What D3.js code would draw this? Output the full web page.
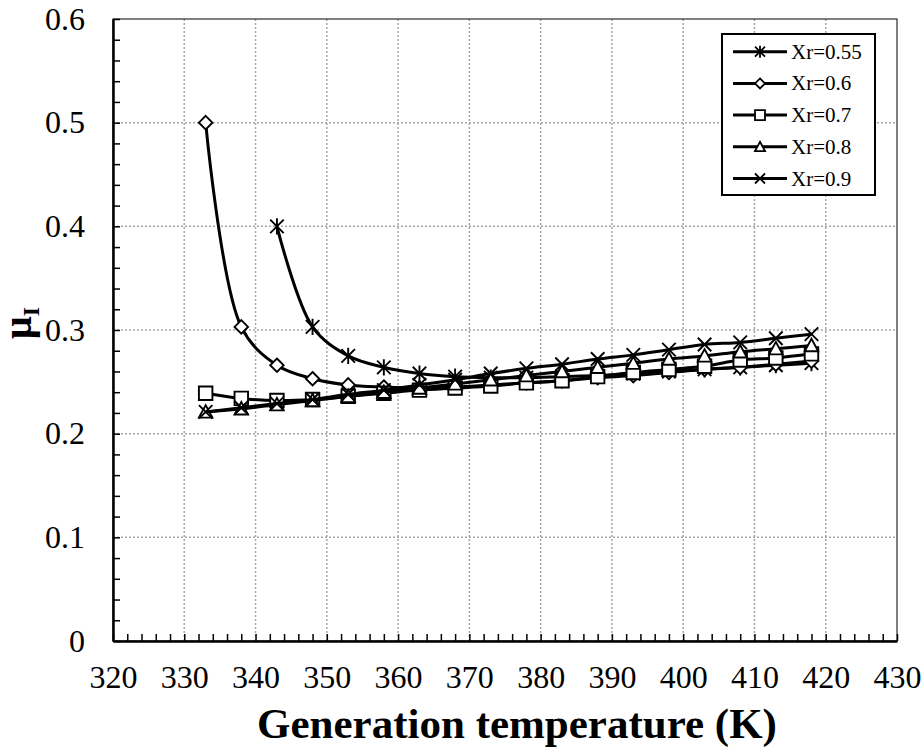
<!DOCTYPE html>
<html>
<head>
<meta charset="utf-8">
<script src="https://cdn.jsdelivr.net/npm/d3@7"></script>
<style>
  body { margin: 0; background: #fff; }
  svg text { font-family: "Liberation Serif", "Times New Roman", serif; }
</style>
</head>
<body>
<div id="chart"></div>
<script>
// Generation temperature (K), shared by every series
const temps = [333, 338, 343, 348, 353, 358, 363, 368, 373, 378, 383, 388, 393, 398, 403, 408, 413, 418];

// mu_I values per Xr (null = no point)
const xr055 = [null, null, 0.4, 0.303, 0.275, 0.264, 0.258, 0.255, 0.254, 0.254, 0.255, 0.256, 0.258, 0.26, 0.262, 0.264, 0.266, 0.268];
const xr06 = [0.5, 0.303, 0.266, 0.253, 0.247, 0.245, 0.244, 0.245, 0.247, 0.249, 0.251, 0.254, 0.256, 0.259, 0.262, 0.264, 0.267, 0.27];
const xr07 = [0.239, 0.234, 0.232, 0.233, 0.236, 0.239, 0.242, 0.244, 0.246, 0.249, 0.251, 0.255, 0.259, 0.262, 0.265, 0.271, 0.273, 0.277];
const xr08 = [0.221, 0.224, 0.228, 0.232, 0.236, 0.24, 0.244, 0.248, 0.252, 0.256, 0.26, 0.264, 0.268, 0.272, 0.275, 0.279, 0.282, 0.285];
const xr09 = [0.221, 0.225, 0.229, 0.233, 0.238, 0.242, 0.247, 0.252, 0.258, 0.263, 0.267, 0.272, 0.276, 0.281, 0.286, 0.288, 0.292, 0.296];

const seriesNames = ["Xr=0.55", "Xr=0.6", "Xr=0.7", "Xr=0.8", "Xr=0.9"];
const seriesValues = [xr055, xr06, xr07, xr08, xr09];
const seriesMarkers = ["asterisk", "diamond", "square", "triangle", "cross"];

const xTicks = d3.range(320, 431, 10);
const yTicks = [0, 0.1, 0.2, 0.3, 0.4, 0.5, 0.6];

const width = 922;
const height = 747;
const margin = { top: 19, right: 25, bottom: 106, left: 113 };
const serif = "Liberation Serif";

const svg = d3
  .select("#chart")
  .append("svg")
  .attr("width", width)
  .attr("height", height);

const x = d3.scaleLinear().domain([320, 430]).range([margin.left, width - margin.right]);
const y = d3.scaleLinear().domain([0, 0.6]).range([height - margin.bottom, margin.top]);

// Dotted grid lines
const grid = svg.append("g").attr("class", "grid");
grid
  .selectAll("line.vx")
  .data(xTicks.slice(1, -1))
  .enter()
  .append("line")
  .attr("x1", (d) => x(d))
  .attr("x2", (d) => x(d))
  .attr("y1", y(0))
  .attr("y2", y(0.6))
  .attr("stroke", "#a6a6a6")
  .attr("stroke-width", 1.5)
  .attr("stroke-dasharray", "2,2");
grid
  .selectAll("line.hy")
  .data(yTicks.slice(1, -1))
  .enter()
  .append("line")
  .attr("x1", x(320))
  .attr("x2", x(430))
  .attr("y1", (d) => y(d))
  .attr("y2", (d) => y(d))
  .attr("stroke", "#a6a6a6")
  .attr("stroke-width", 1.5)
  .attr("stroke-dasharray", "2,2");

// Plot frame (top and right)
svg
  .append("rect")
  .attr("x", x(320))
  .attr("y", y(0.6))
  .attr("width", x(430) - x(320))
  .attr("height", y(0) - y(0.6))
  .attr("fill", "none")
  .attr("stroke", "#000")
  .attr("stroke-width", 1);

// Axes with inward ticks every 2 K and every 0.02
const xAxis = d3
  .axisBottom(x)
  .tickValues(d3.range(320, 431, 2))
  .tickSizeInner(-7)
  .tickSizeOuter(0)
  .tickFormat((d) => (d % 10 === 0 ? d : ""))
  .tickPadding(24);
const yAxis = d3
  .axisLeft(y)
  .tickValues(d3.range(0, 0.6001, 0.02))
  .tickSizeInner(-7)
  .tickSizeOuter(0)
  .tickFormat((d) => (Math.abs(d * 10 - Math.round(d * 10)) < 1e-6 ? String(+d.toFixed(1)) : ""))
  .tickPadding(28);

const gx = svg.append("g").attr("transform", `translate(0,${y(0)})`).call(xAxis);
const gy = svg.append("g").attr("transform", `translate(${x(320)},0)`).call(yAxis);
[gx, gy].forEach((g) => {
  g.attr("font-family", serif).attr("font-size", 32);
  g.select(".domain").attr("stroke", "#000").attr("stroke-width", 2.5);
  g.selectAll(".tick line").attr("stroke", "#000").attr("stroke-width", 1.5);
  g.selectAll(".tick text")
    .attr("fill", "#000")
    .style("font-family", serif)
    .style("font-size", "32px");
});

// Marker shapes drawn as paths around (0,0)
function markerPath(type, s) {
  const h = s / 2;
  if (type === "diamond") return `M0,${-h}L${h},0L0,${h}L${-h},0Z`;
  if (type === "square") return `M${-h},${-h}H${h}V${h}H${-h}Z`;
  if (type === "triangle") return `M0,${-h}L${h},${h * 0.85}H${-h}Z`;
  if (type === "cross") return `M${-h},${-h}L${h},${h}M${h},${-h}L${-h},${h}`;
  // asterisk: cross plus vertical bar
  return `M${-h},${-h}L${h},${h}M${h},${-h}L${-h},${h}M0,${-h * 1.2}V${h * 1.2}`;
}

const line = d3
  .line()
  .defined((d) => d[1] !== null)
  .x((d) => x(d[0]))
  .y((d) => y(d[1]))
  .curve(d3.curveCatmullRom.alpha(0.5));

// Draw each series: smooth line then open markers
seriesValues.forEach((vals, i) => {
  const pts = temps.map((t, j) => [t, vals[j]]).filter((d) => d[1] !== null);
  const g = svg.append("g").attr("class", "series");
  g.append("path")
    .datum(pts)
    .attr("d", line)
    .attr("fill", "none")
    .attr("stroke", "#000")
    .attr("stroke-width", 3);
  g.selectAll("path.mk")
    .data(pts)
    .enter()
    .append("path")
    .attr("class", "mk")
    .attr("transform", (d) => `translate(${x(d[0])},${y(d[1])})`)
    .attr("d", markerPath(seriesMarkers[i], 13.5))
    .attr("fill", seriesMarkers[i] === "cross" || seriesMarkers[i] === "asterisk" ? "none" : "#fff")
    .attr("stroke", "#000")
    .attr("stroke-width", 1.9);
});

// Legend box
const legend = svg.append("g").attr("class", "legend");
legend
  .append("rect")
  .attr("x", 722)
  .attr("y", 34)
  .attr("width", 153)
  .attr("height", 161)
  .attr("fill", "#fff")
  .attr("stroke", "#000")
  .attr("stroke-width", 2);
seriesNames.forEach((name, i) => {
  const ly = 51.7 + i * 31.7;
  legend.append("line")
    .attr("x1", 733).attr("x2", 787)
    .attr("y1", ly).attr("y2", ly)
    .attr("stroke", "#000").attr("stroke-width", 3);
  legend.append("path")
    .attr("transform", `translate(760,${ly})`)
    .attr("d", markerPath(seriesMarkers[i], 10))
    .attr("fill", seriesMarkers[i] === "cross" || seriesMarkers[i] === "asterisk" ? "none" : "#fff")
    .attr("stroke", "#000")
    .attr("stroke-width", 1.8);
  legend.append("text")
    .attr("x", 791)
    .attr("y", ly + 7)
    .attr("font-size", 21)
    .text(name);
});

// Axis titles
svg
  .append("text")
  .attr("x", 517)
  .attr("y", 738)
  .attr("text-anchor", "middle")
  .attr("font-size", 43)
  .attr("font-weight", "bold")
  .text("Generation temperature (K)");

const yTitle = svg
  .append("text")
  .attr("transform", `translate(31,323) rotate(-90)`)
  .attr("text-anchor", "middle")
  .attr("font-size", 40)
  .attr("font-weight", "bold");
yTitle.append("tspan").text("μ");
yTitle.append("tspan").attr("font-size", 24).attr("dy", 8).text("I");
</script>
</body>
</html>
